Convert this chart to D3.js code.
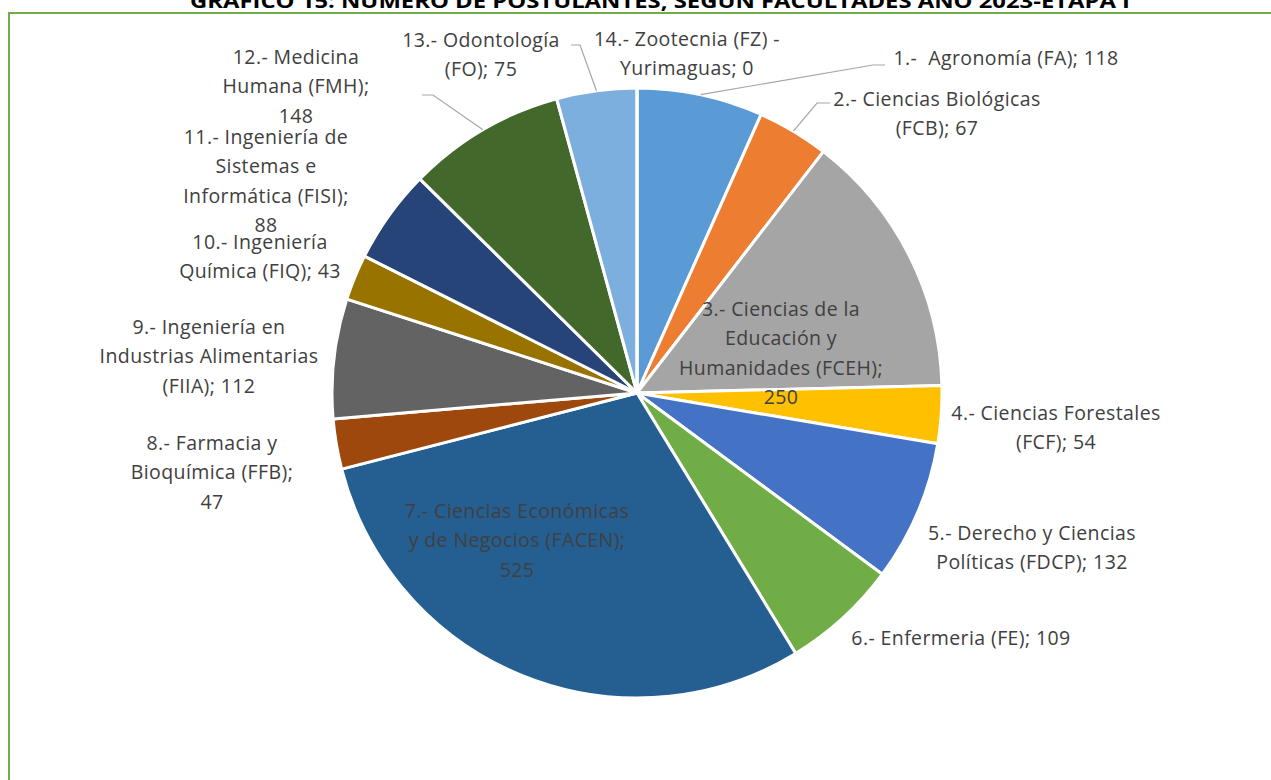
<!DOCTYPE html>
<html>
<head>
<meta charset="utf-8">
<script src="https://cdn.jsdelivr.net/npm/d3@7"></script>
<style>
  body { margin: 0; background: #fff; }
  svg { display: block; }
  text { font-family: "Open Sans", Lato, sans-serif; fill: #404040; white-space: pre; }
</style>
</head>
<body>
<script>
// data
const categories = [
    "1.-  Agronomía (FA)",
    "2.- Ciencias Biológicas (FCB)",
    "3.- Ciencias de la Educación y Humanidades (FCEH)",
    "4.- Ciencias Forestales (FCF)",
    "5.- Derecho y Ciencias Políticas (FDCP)",
    "6.- Enfermeria (FE)",
    "7.- Ciencias Económicas y de Negocios (FACEN)",
    "8.- Farmacia y Bioquímica (FFB)",
    "9.- Ingeniería en Industrias Alimentarias (FIIA)",
    "10.- Ingeniería Química (FIQ)",
    "11.- Ingeniería de Sistemas e Informática (FISI)",
    "12.- Medicina Humana (FMH)",
    "13.- Odontología (FO)",
    "14.- Zootecnia (FZ) - Yurimaguas"
];
const values = [118, 67, 250, 54, 132, 109, 525, 47, 112, 43, 88, 148, 75, 0];
const colors = ["#5B9BD5", "#ED7D31", "#A5A5A5", "#FFC000", "#4472C4", "#70AD47", "#255E91",
    "#9E480E", "#636363", "#997300", "#264478", "#43682B", "#7CAFDD", "#F1975A"];
const title = "GRAFICO 15: NUMERO DE POSTULANTES, SEGÚN FACULTADES AÑO 2023-ETAPA I";

// label layout: words per line, centre x, first line y
const labelLayout = [
    { wrap: [5], x: 1006, y: 58 },
    { wrap: [3, 2], x: 937, y: 99 },
    { wrap: [4, 2, 2, 1], x: 781, y: 309 },
    { wrap: [3, 2], x: 1056, y: 413 },
    { wrap: [4, 3], x: 1032, y: 533 },
    { wrap: [4], x: 961, y: 638 },
    { wrap: [3, 4, 1], x: 517, y: 511 },
    { wrap: [3, 2, 1], x: 212, y: 443 },
    { wrap: [3, 2, 2], x: 209, y: 327 },
    { wrap: [2, 3], x: 260, y: 242 },
    { wrap: [3, 2, 2, 1], x: 266, y: 137 },
    { wrap: [2, 2, 1], x: 296, y: 57 },
    { wrap: [2, 2], x: 481, y: 40 },
    { wrap: [4, 2], x: 687, y: 39 }
];
const leaders = [
    { i: 0, elbow: [873, 65], end: [885, 65] },
    { i: 1, elbow: [817, 103], end: [830, 103] },
    { i: 11, elbow: [433, 95], end: [422, 95] },
    { i: 12, elbow: [580, 45], end: [571, 45] }
];

const width = 1271, height = 780;
const cx = 637, cy = 393, radius = 305;
const lineH = 29.5;

const svg = d3.select("body").append("svg")
    .attr("width", width)
    .attr("height", height);

// frame
svg.append("rect")
    .attr("x", 9).attr("y", 13)
    .attr("width", width + 20).attr("height", height + 20)
    .attr("fill", "none")
    .attr("stroke", "#70AD47")
    .attr("stroke-width", 2);

svg.append("text")
    .attr("x", 660).attr("y", 8)
    .attr("text-anchor", "middle")
    .attr("textLength", 940)
    .attr("lengthAdjust", "spacingAndGlyphs")
    .style("font-weight", "bold")
    .style("font-size", "20px")
    .style("fill", "#000")
    .text(title);

const pie = d3.pie().sort(null).value(d => d);
const arcs = pie(values);
const arc = d3.arc().innerRadius(0).outerRadius(radius);

const g = svg.append("g").attr("transform", `translate(${cx},${cy})`);

g.selectAll("path.slice")
    .data(arcs)
    .enter()
    .append("path")
    .attr("class", "slice")
    .attr("d", arc)
    .attr("fill", (d, i) => colors[i])
    .attr("stroke", "#fff")
    .attr("stroke-width", 3)
    .attr("stroke-linejoin", "round");

// leader lines start at the slice edge, mid angle
leaders.forEach(l => {
    const a = arcs[l.i];
    const mid = (a.startAngle + a.endAngle) / 2;
    const sx = cx + radius * Math.sin(mid);
    const sy = cy - radius * Math.cos(mid);
    svg.append("path")
        .attr("d", `M${sx},${sy} L${l.elbow[0]},${l.elbow[1]} L${l.end[0]},${l.end[1]}`)
        .attr("fill", "none")
        .attr("stroke", "#A6A6A6")
        .attr("stroke-width", 1.2);
});

// labels
categories.forEach((c, i) => {
    const words = `${c}; ${values[i]}`.split(" ");
    const lay = labelLayout[i];
    const lines = [];
    let k = 0;
    lay.wrap.forEach(n => {
        lines.push(words.slice(k, k + n).join(" "));
        k += n;
    });
    const t = svg.append("text")
        .attr("text-anchor", "middle")
        .style("font-size", "19.5px")
        .style("letter-spacing", "0.4px");
    lines.forEach((ln, j) => {
        t.append("tspan")
            .attr("x", lay.x)
            .attr("y", lay.y + j * lineH)
            .attr("dy", "0.35em")
            .text(ln);
    });
});
</script>
</body>
</html>
